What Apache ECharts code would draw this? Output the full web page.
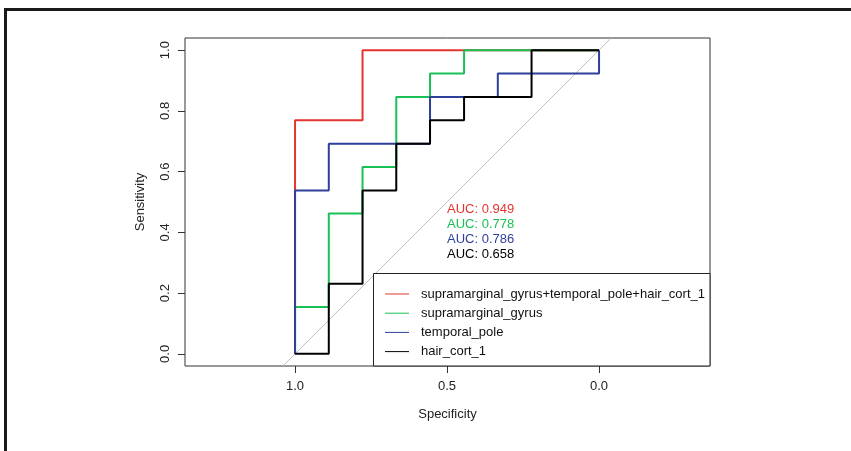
<!DOCTYPE html>
<html>
<head>
<meta charset="utf-8">
<script src="https://cdn.jsdelivr.net/npm/echarts@6/dist/echarts.min.js"></script>
<style>
  html, body { margin: 0; padding: 0; background: #fff; }
  #chart { width: 851px; height: 451px; }
</style>
</head>
<body>
<div id="chart"></div>
<script>
const names = ['supramarginal_gyrus+temporal_pole+hair_cort_1', 'supramarginal_gyrus', 'temporal_pole', 'hair_cort_1']
const colors = ['#e3342f', '#19c055', '#2f3f9c', '#000000']
const auc = [0.949, 0.778, 0.786, 0.658]

// corners of each step curve (specificity, sensitivity)
const specCombined = [1, 1, 0.778, 0.778, 0]
const sensCombined = [0, 0.769, 0.769, 1, 1]
const specSupra = [1, 1, 0.889, 0.889, 0.778, 0.778, 0.667, 0.667, 0.556, 0.556, 0.444, 0.444, 0]
const sensSupra = [0, 0.154, 0.154, 0.462, 0.462, 0.615, 0.615, 0.846, 0.846, 0.923, 0.923, 1, 1]
const specTemporal = [1, 1, 0.889, 0.889, 0.556, 0.556, 0.333, 0.333, 0, 0]
const sensTemporal = [0, 0.538, 0.538, 0.692, 0.692, 0.846, 0.846, 0.923, 0.923, 1]
const specHair = [1, 0.889, 0.889, 0.778, 0.778, 0.667, 0.667, 0.556, 0.556, 0.444, 0.444, 0.222, 0.222, 0]
const sensHair = [0, 0, 0.231, 0.231, 0.538, 0.538, 0.692, 0.692, 0.769, 0.769, 0.846, 0.846, 1, 1]

// reference diagonal, spans the whole plot box
const diagSpec = [1.04, -0.04]
const diagSens = [-0.04, 1.04]

const xTicks = [1.0, 0.5, 0.0]
const yTicks = [0.0, 0.2, 0.4, 0.6, 0.8, 1.0]

const FONT = 'Liberation Sans, Arial, sans-serif'

function pairs (xs, ys) {
  return xs.map((x, i) => [x, ys[i]])
}

const curves = [
  pairs(specCombined, sensCombined),
  pairs(specSupra, sensSupra),
  pairs(specTemporal, sensTemporal),
  pairs(specHair, sensHair)
]

const chart = echarts.init(document.getElementById('chart'), null, { renderer: 'canvas' })

const series = [{
  name: 'diag',
  type: 'line',
  data: pairs(diagSpec, diagSens),
  symbol: 'none',
  silent: true,
  lineStyle: { color: '#bdbdbd', width: 1 },
  z: 1
}]
curves.forEach((c, i) => {
  series.push({
    name: names[i],
    type: 'line',
    data: c,
    symbol: 'none',
    color: colors[i],
    lineStyle: { color: colors[i], width: 2 },
    z: 2 + i * 0.01
  })
})

const aucTexts = auc.map((a, i) => ({
  type: 'text',
  x: 447,
  y: 209 + i * 15,
  z: 3,
  style: {
    text: 'AUC: ' + a.toFixed(3),
    fill: colors[i],
    font: '13px ' + FONT,
    verticalAlign: 'middle'
  }
}))

chart.setOption({
  animation: false,
  backgroundColor: '#fff',
  grid: {
    left: 185, top: 38, width: 525, height: 328,
    show: true, borderColor: '#333', borderWidth: 1
  },
  xAxis: {
    type: 'value',
    inverse: true,
    min: -0.365,
    max: 1.362,
    splitLine: { show: false },
    axisLine: { show: false, onZero: false },
    axisTick: { customValues: xTicks, length: 7, lineStyle: { color: '#333' } },
    axisLabel: {
      customValues: xTicks,
      formatter: v => v.toFixed(1),
      margin: 14,
      fontSize: 13,
      fontFamily: FONT,
      color: '#222'
    },
    name: 'Specificity',
    nameLocation: 'middle',
    nameGap: 42,
    nameTextStyle: { fontSize: 13, fontFamily: FONT, color: '#222' }
  },
  yAxis: {
    type: 'value',
    min: -0.04,
    max: 1.04,
    splitLine: { show: false },
    axisLine: { show: false, onZero: false },
    axisTick: { customValues: yTicks, length: 7, lineStyle: { color: '#333' } },
    axisLabel: {
      customValues: yTicks,
      formatter: v => v.toFixed(1),
      rotate: 90,
      margin: 13,
      fontSize: 13,
      fontFamily: FONT,
      color: '#222'
    },
    name: 'Sensitivity',
    nameLocation: 'middle',
    nameGap: 38,
    nameTextStyle: { fontSize: 13, fontFamily: FONT, color: '#222' }
  },
  legend: {
    data: names,
    orient: 'vertical',
    left: 385,
    top: 287,
    padding: 0,
    icon: 'rect',
    itemWidth: 24,
    itemHeight: 1,
    itemGap: 5.2,
    selectedMode: false,
    textStyle: { fontSize: 13, lineHeight: 14, fontFamily: FONT, color: '#111', padding: [0, 0, 0, 7] },
    z: 5
  },
  graphic: [
    // outer frame, top and left edges only
    { type: 'rect', shape: { x: 4, y: 8, width: 847, height: 3 }, style: { fill: '#1a1a1a' }, z: 10 },
    { type: 'rect', shape: { x: 4, y: 8, width: 3, height: 443 }, style: { fill: '#1a1a1a' }, z: 10 },
    // legend box
    {
      type: 'rect',
      shape: { x: 373.5, y: 273.5, width: 336.5, height: 92.5 },
      style: { fill: '#fff', stroke: '#222', lineWidth: 1 },
      z: 3
    },
    ...aucTexts
  ],
  series: series
})
</script>
</body>
</html>
